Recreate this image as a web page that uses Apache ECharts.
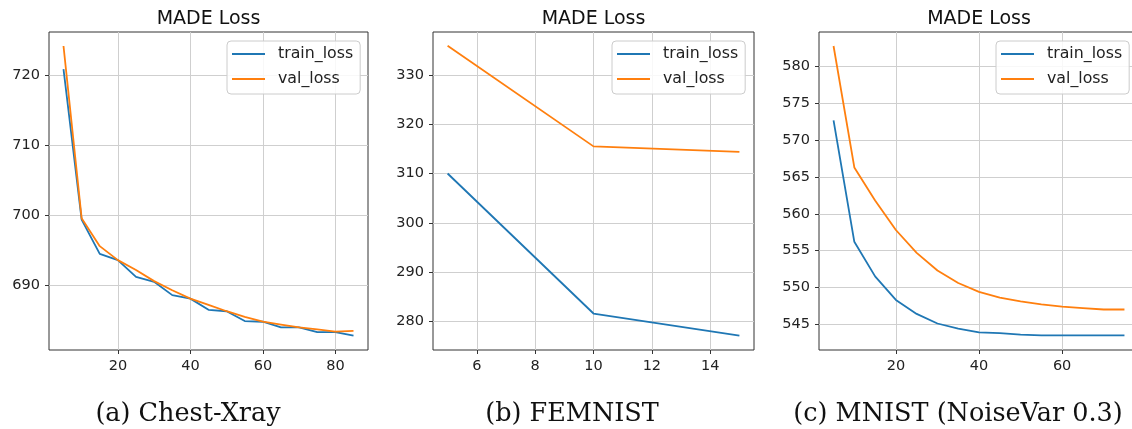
<!DOCTYPE html>
<html>
<head>
<meta charset="utf-8">
<script src="https://cdn.jsdelivr.net/npm/echarts@6/dist/echarts.min.js"></script>
<style>
html,body{margin:0;padding:0;background:#fff;}
#c{width:1132px;height:429px;}
</style>
</head>
<body>
<div id="c"></div>
<script>
// ---- data ----
const seriesNames = ['train_loss', 'val_loss'];
const titleText = 'MADE Loss';
const captions = ['(a) Chest-Xray', '(b) FEMNIST', '(c) MNIST (NoiseVar 0.3)'];

const epochsA = [5,10,15,20,25,30,35,40,45,50,55,60,65,70,75,80,85];
const trainA = [720.9,699.4,694.5,693.6,691.2,690.5,688.6,688.1,686.5,686.3,684.9,684.8,684.0,684.0,683.3,683.3,682.8];
const valA   = [724.2,699.6,695.6,693.6,692.2,690.6,689.3,688.1,687.2,686.3,685.5,684.8,684.4,684.0,683.7,683.4,683.5];

const epochsB = [5,10,15];
const trainB = [310.0,281.6,277.1];
const valB   = [335.9,315.5,314.4];

const epochsC = [5,10,15,20,25,30,35,40,45,50,55,60,65,70,75];
const trainC = [572.7,556.2,551.5,548.3,546.4,545.1,544.4,543.9,543.8,543.6,543.5,543.5,543.5,543.5,543.5];
const valC   = [582.8,566.3,561.8,557.8,554.7,552.3,550.6,549.4,548.6,548.1,547.7,547.4,547.2,547.0,547.0];

// axis view ranges (matplotlib autoscale margins)
const xRangeA = [1, 89],     yRangeA = [680.76, 726.2];
const xRangeB = [4.5, 15.5], yRangeB = [274.2, 338.7];
const xRangeC = [1.5, 78.5], yRangeC = [541.5, 584.7];
const xTicksA = [20,40,60,80], yTicksA = [690,700,710,720];
const xTicksB = [6,8,10,12,14], yTicksB = [280,290,300,310,320,330];
const xTicksC = [20,40,60], yTicksC = [545,550,555,560,565,570,575,580];

// ---- layout ----
const grids = [
  {left: 49,  top: 32, width: 319, height: 318},
  {left: 433, top: 32, width: 321, height: 318},
  {left: 819, top: 32, width: 320, height: 318}
];
const panels = [
  {x: epochsA, tr: trainA, va: valA, xr: xRangeA, yr: yRangeA, xt: xTicksA, yt: yTicksA, ysplit: 5, cap: 188, leg: 227},
  {x: epochsB, tr: trainB, va: valB, xr: xRangeB, yr: yRangeB, xt: xTicksB, yt: yTicksB, ysplit: 5, cap: 572, leg: 612},
  {x: epochsC, tr: trainC, va: valC, xr: xRangeC, yr: yRangeC, xt: xTicksC, yt: yTicksC, ysplit: 8, cap: 958, leg: 996}
];
const colors = ['#1f77b4', '#ff7f0e'];
const tickFont = {fontFamily: 'DejaVu Sans', fontSize: 14.5, color: '#222'};

const option = {
  animation: false,
  backgroundColor: '#fff',
  grid: grids.map(g => Object.assign({
    show: true, borderColor: '#333', borderWidth: 1, backgroundColor: 'transparent',
    containLabel: false, outerBoundsMode: 'none'
  }, g)),
  xAxis: panels.map((p, i) => ({
    type: 'value', gridIndex: i, min: p.xr[0], max: p.xr[1], splitNumber: 5,
    axisLine: {show: false},
    axisTick: {show: true, inside: false, length: 4, lineStyle: {color: '#333'}, customValues: p.xt},
    axisLabel: Object.assign({margin: 9, customValues: p.xt}, tickFont),
    splitLine: {show: true, lineStyle: {color: '#cfcfcf', width: 1}}
  })),
  yAxis: panels.map((p, i) => ({
    type: 'value', gridIndex: i, min: p.yr[0], max: p.yr[1], splitNumber: p.ysplit,
    axisLine: {show: false},
    axisTick: {show: true, inside: false, length: 4, lineStyle: {color: '#333'}, customValues: p.yt},
    axisLabel: Object.assign({margin: 9, customValues: p.yt}, tickFont),
    splitLine: {show: true, lineStyle: {color: '#cfcfcf', width: 1}}
  })),
  legend: panels.map(p => ({
    data: seriesNames, orient: 'vertical', left: p.leg, top: 41,
    icon: 'rect', itemWidth: 33, itemHeight: 2, itemGap: 7,
    padding: [4, 7, 6, 5],
    borderColor: '#cccccc', borderWidth: 1, borderRadius: 4,
    backgroundColor: 'rgba(255,255,255,0.85)',
    textStyle: {fontFamily: 'DejaVu Sans', fontSize: 15.8, color: '#222', lineHeight: 18, padding: [0,0,0,8]},
    selectedMode: false
  })),
  series: [],
  graphic: []
};

panels.forEach((p, i) => {
  [p.tr, p.va].forEach((vals, k) => {
    option.series.push({
      type: 'line', name: seriesNames[k], xAxisIndex: i, yAxisIndex: i,
      data: p.x.map((x, j) => [x, vals[j]]),
      symbol: 'none', showSymbol: false,
      lineStyle: {color: colors[k], width: 1.8},
      itemStyle: {color: colors[k]},
      clip: true
    });
  });
  const g = grids[i];
  option.graphic.push({
    type: 'text', x: g.left + g.width / 2, y: 19,
    style: {text: titleText, font: '19px "DejaVu Sans"', fill: '#111', align: 'center', verticalAlign: 'middle'}
  });
  option.graphic.push({
    type: 'text', x: p.cap, y: 414,
    style: {text: captions[i], font: '25.5px "DejaVu Serif"', fill: '#111', align: 'center', verticalAlign: 'middle'}
  });
});

const chart = echarts.init(document.getElementById('c'), null, {renderer: 'canvas'});
chart.setOption(option);
</script>
</body>
</html>
